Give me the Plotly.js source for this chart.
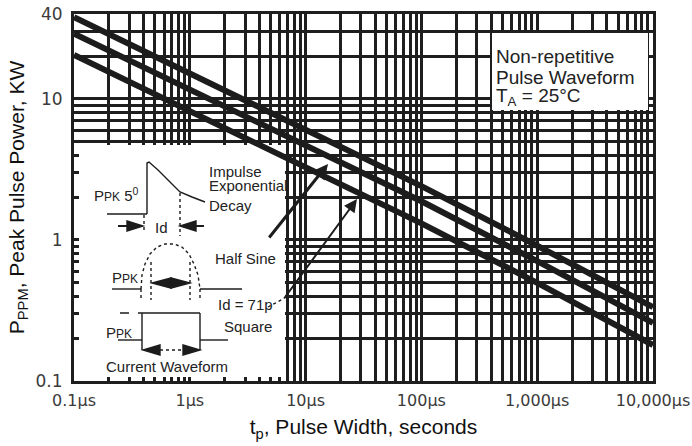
<!DOCTYPE html>
<html><head><meta charset="utf-8">
<script src="https://cdn.plot.ly/plotly-3.0.1.min.js"></script>
<style>html,body{margin:0;padding:0;background:#fff}#chart{width:692px;height:446px}</style>
</head><body><div id="chart"></div>
<script>
// ---- data ----
const pulseWidth_s = [1e-7, 1e-6, 1e-5, 1e-4, 1e-3, 1e-2];
const expDecay_kW  = [38, 15.1, 6.0, 2.41, 0.91, 0.334];
const halfSine_kW  = [29, 11.7, 4.68, 1.88, 0.708, 0.258];
const square_kW    = [20.5, 8.18, 3.27, 1.31, 0.496, 0.18];

const xTickVals = [1e-7, 1e-6, 1e-5, 1e-4, 1e-3, 1e-2];
const xTickText = ['0.1µs', '1µs', '10µs', '100µs', '1,000µs', '10,000µs'];
const yTickVals = [0.1, 1, 10, 40];
const yTickText = ['0.1', '1', '10', '40'];
const minorDigits = [2, 3, 4, 5, 6, 7, 8, 9];

// minor grid positions (log-axis grid, not data)
const xMinor = [];
[-7, -6, -5, -4, -3].forEach(e => minorDigits.forEach(d => xMinor.push(d * Math.pow(10, e))));
const yMinor = [];
[-1, 0].forEach(e => minorDigits.forEach(d => yMinor.push(d * Math.pow(10, e))));
yMinor.push(20, 30);

// ---- decoration helpers (pixel -> paper for the inset sketch) ----
const PL = 74, PT = 14, PW = 579, PH = 367;
const X_LOG = [-7, -2], Y_LOG = [-1, Math.log10(40)];
const px = x => (x - PL) / PW;
const py = y => (PT + PH - y) / PH;
// pixel -> axis value (used only for the white masking panels)
const xAt = p => Math.pow(10, X_LOG[0] + (X_LOG[1] - X_LOG[0]) * (p - PL) / PW);
const yAt = p => Math.pow(10, Y_LOG[1] - (Y_LOG[1] - Y_LOG[0]) * (p - PT) / PH);
const INK = '#1c1c1c';
const GRID = '#1e1e1e';

function seg(x0, y0, x1, y1, dash, w) {
  return {type: 'line', xref: 'paper', yref: 'paper', layer: 'above',
    x0: px(x0), y0: py(y0), x1: px(x1), y1: py(y1),
    line: {color: INK, width: w || 1.4, dash: dash || 'solid'}};
}
function poly(pts, fill, dash, w) {
  let d = 'M ' + pts.map(p => px(p[0]) + ',' + py(p[1])).join(' L ');
  if (fill) d += ' Z';
  return {type: 'path', xref: 'paper', yref: 'paper', layer: 'above', path: d,
    fillcolor: fill ? INK : 'rgba(0,0,0,0)',
    line: {color: INK, width: w || 1.4, dash: dash || 'solid'}};
}
function txt(x, y, s, size, anchor) {
  return {xref: 'paper', yref: 'paper', x: px(x), y: py(y), text: s, showarrow: false,
    xanchor: anchor || 'left', yanchor: 'middle',
    font: {family: 'Liberation Sans, Arial, sans-serif', size: size || 15, color: '#222'}};
}
function mask(x0, y0, x1, y1) {
  return {x: [xAt(x0), xAt(x1), xAt(x1), xAt(x0), xAt(x0)],
          y: [yAt(y0), yAt(y0), yAt(y1), yAt(y1), yAt(y0)],
          mode: 'lines', fill: 'toself', fillcolor: '#ffffff', line: {width: 0, color: 'rgba(0,0,0,0)'},
          hoverinfo: 'skip', showlegend: false};
}

const shapes = [
  // exponential waveform
  seg(107, 214, 147, 214),
  poly([[147, 214], [147, 163], [149, 162], [158, 170], [168, 180], [180, 192], [192, 197], [205, 202]]),
  seg(144, 215, 144, 233, 'dot'),
  seg(180, 193, 180, 236, 'dot'),
  seg(118, 226, 127, 226, null, 2),
  poly([[127, 221], [143, 226], [127, 231]], true),
  seg(196, 226, 204, 226, null, 2),
  poly([[196, 221], [180, 226], [196, 231]], true),
  // half sine
  seg(112, 289, 141, 289),
  seg(200, 289, 242, 289),
  poly([[141, 289], [142, 275], [145, 264], [150, 254], [157, 247], [165, 244], [174, 244], [182, 247], [189, 254], [194, 264], [198, 275], [200, 289]], false, 'dot'),
  seg(141, 289, 141, 300, 'dot'),
  seg(200, 289, 200, 300, 'dot'),
  seg(151, 262, 151, 300, 'dot'),
  seg(190, 262, 190, 300, 'dot'),
  poly([[171, 278], [152, 283], [171, 288]], true),
  poly([[171, 278], [190, 283], [171, 288]], true),
  // square
  seg(120, 313, 142, 313, 'dash'),
  seg(142, 313, 200, 313),
  seg(142, 313, 142, 350),
  seg(200, 313, 200, 350),
  seg(118, 340, 142, 340),
  seg(200, 340, 228, 340),
  poly([[160, 345], [143, 350], [160, 355]], true),
  poly([[183, 345], [200, 350], [183, 355]], true),
  seg(160, 350, 183, 350, 'dot'),
  // small leader from "Id = 71p"
  seg(268, 307, 283, 299, 'dot', 1.4)
];

const annotations = [
  txt(92, 195, 'P<span style="font-size:12px">PK</span> 5<sup>0</sup>', 15),
  txt(161, 227, 'Id', 15, 'center'),
  txt(207, 171, 'Impulse', 15),
  txt(207, 185, 'Exponential', 15),
  txt(207, 206, 'Decay', 15),
  txt(110, 277, 'P<span style="font-size:12px">PK</span>', 15),
  txt(213, 258, 'Half Sine', 15),
  txt(216, 304, 'Id = 71p', 15),
  txt(222, 326, 'Square', 15),
  txt(104, 332, 'P<span style="font-size:12px">PK</span>', 15),
  txt(167, 366, 'Current Waveform', 15, 'center'),
  txt(494, 57, 'Non-repetitive', 19),
  txt(494, 77, 'Pulse Waveform', 19),
  txt(494, 97, 'T<sub>A</sub> = 25°C', 19),
  {xref: 'paper', yref: 'paper', x: px(328), y: py(164), ax: 268 - 328, ay: 239 - 164,
   text: '', showarrow: true, arrowhead: 2, arrowsize: 1, arrowwidth: 3, arrowcolor: INK, standoff: 0},
  {xref: 'paper', yref: 'paper', x: px(357), y: py(199), ax: 283 - 357, ay: 300 - 199,
   text: '', showarrow: true, arrowhead: 2, arrowsize: 1.3, arrowwidth: 2, arrowcolor: INK, standoff: 0}
];

const lineStyle = {color: INK, width: 6};
const traces = [
  mask(79, 377, 285, 145),   // white inset panel
  mask(492, 110, 648, 33),   // white legend box
  {x: pulseWidth_s, y: expDecay_kW, mode: 'lines', name: 'Impulse Exponential Decay', line: lineStyle},
  {x: pulseWidth_s, y: halfSine_kW, mode: 'lines', name: 'Half Sine', line: lineStyle},
  {x: pulseWidth_s, y: square_kW, mode: 'lines', name: 'Square', line: lineStyle}
];

const xTickFont = {family: 'DejaVu Sans, sans-serif', size: 16, color: '#3a3a3a'};
const yTickFont = {family: 'DejaVu Sans, sans-serif', size: 17, color: '#3a3a3a'};
const titleFont = {family: 'Liberation Sans, Arial, sans-serif', size: 21, color: '#111'};

const layout = {
  width: 692, height: 446,
  margin: {l: PL, r: 692 - PL - PW, t: PT, b: 446 - PT - PH},
  paper_bgcolor: '#fff', plot_bgcolor: '#fff',
  showlegend: false,
  xaxis: {
    type: 'log', range: X_LOG, tickmode: 'array', tickvals: xTickVals, ticktext: xTickText,
    showgrid: true, gridcolor: GRID, gridwidth: 3, zeroline: false,
    minor: {tickmode: 'array', tickvals: xMinor, showgrid: true, gridcolor: GRID, gridwidth: 3, ticks: ''},
    showline: true, linecolor: GRID, linewidth: 3, mirror: true, ticks: '',
    ticklabelstandoff: 3, ticklabeloverflow: 'allow', tickfont: xTickFont,
    title: {text: 't<sub>p</sub>, Pulse Width, seconds', font: titleFont, standoff: 11}
  },
  yaxis: {
    type: 'log', range: Y_LOG, tickmode: 'array', tickvals: yTickVals, ticktext: yTickText,
    showgrid: true, gridcolor: GRID, gridwidth: 3, zeroline: false,
    minor: {tickmode: 'array', tickvals: yMinor, showgrid: true, gridcolor: GRID, gridwidth: 3, ticks: ''},
    showline: true, linecolor: GRID, linewidth: 3, mirror: true, ticks: '',
    ticklabelstandoff: 5, ticklabeloverflow: 'allow', tickfont: yTickFont,
    title: {text: 'P<sub>PPM</sub>, Peak Pulse Power, KW', font: titleFont, standoff: 6}
  },
  shapes: shapes,
  annotations: annotations
};

Plotly.newPlot('chart', traces, layout, {displayModeBar: false, staticPlot: true});
</script>
</body></html>
